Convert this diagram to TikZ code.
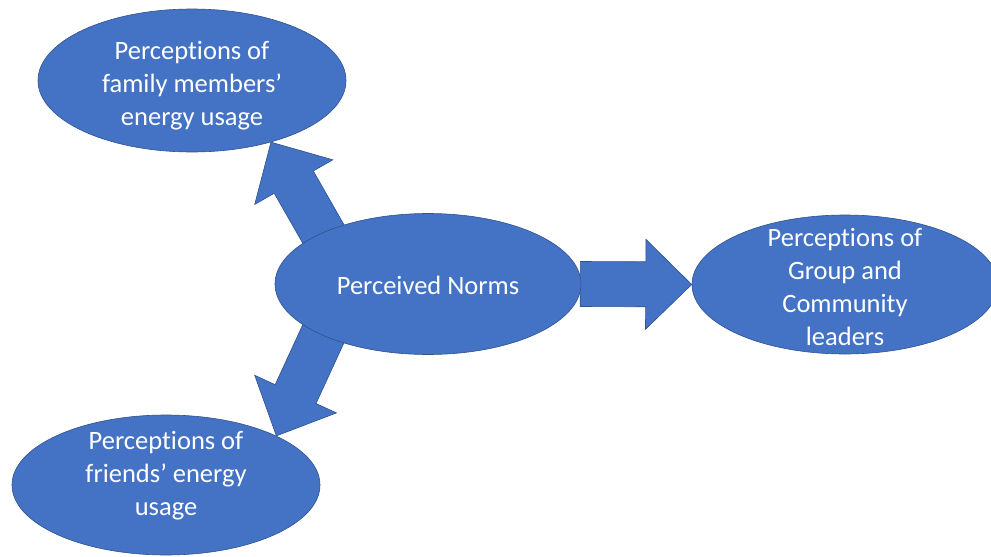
\documentclass[tikz,border=0pt]{standalone}
\usepackage{fontspec}
\setmainfont{Carlito}[Ligatures=NoCommon]
\usetikzlibrary{shapes.geometric,calc}
\definecolor{boxblue}{HTML}{4472C4}
\definecolor{edgeblue}{HTML}{2F528F}
\pgfdeclarelayer{background}
\pgfsetlayers{background,main}

\tikzset{
  bubble/.style={ellipse, fill=boxblue, draw=edgeblue, line width=0.6pt, inner sep=0pt},
  bubbletext/.style={text=white, align=center, font=\fontsize{26.5}{33}\selectfont, inner sep=0pt},
  blockfill/.style={fill=boxblue, draw=edgeblue, line width=0.6pt, line join=miter}
}

% Block arrow from #2 (tail, pushed back by #1) to #3 (tip)
\newcommand\blockarrow[3][14pt]{%
  \coordinate (ba-tail) at ($(#2)!-#1!(#3)$);
  \coordinate (ba-base) at ($(#3)!46pt!(ba-tail)$);
  \filldraw[blockfill]
    ($(ba-tail)!22.5pt!90:(#3)$) -- ($(ba-base)!22.5pt!90:(#3)$) --
    ($(ba-base)!45pt!90:(#3)$) -- (#3) --
    ($(ba-base)!45pt!-90:(#3)$) -- ($(ba-base)!22.5pt!-90:(#3)$) --
    ($(ba-tail)!22.5pt!-90:(#3)$) -- cycle;}

\begin{document}
\begin{tikzpicture}[x=1pt, y=-1pt]
  \useasboundingbox (0,0) rectangle (991,557);

  \node[bubble, minimum width=308pt, minimum height=143pt,
        label={[bubbletext, yshift=-5pt]center:{Perceptions of\\family members’\\energy usage}}]
        (family) at (192,80.5) {};
  \node[bubble, minimum width=306pt, minimum height=141pt,
        label={[bubbletext, yshift=-1pt]center:{Perceived Norms}}]
        (norms) at (428,284) {};
  \node[bubble, minimum width=306pt, minimum height=139pt,
        label={[bubbletext, yshift=-2pt]center:{Perceptions of\\Group and\\Community\\leaders}}]
        (leaders) at (845,284.5) {};
  \node[bubble, minimum width=308pt, minimum height=140pt,
        label={[bubbletext, yshift=9pt]center:{Perceptions of\\friends’ energy\\usage}}]
        (friends) at (166,485) {};

  \begin{pgfonlayer}{background}
    \blockarrow{norms.154}{family.-38}
    \blockarrow{norms.206}{friends.24}
    \blockarrow[1pt]{norms.east}{leaders.west}
  \end{pgfonlayer}
\end{tikzpicture}
\end{document}
